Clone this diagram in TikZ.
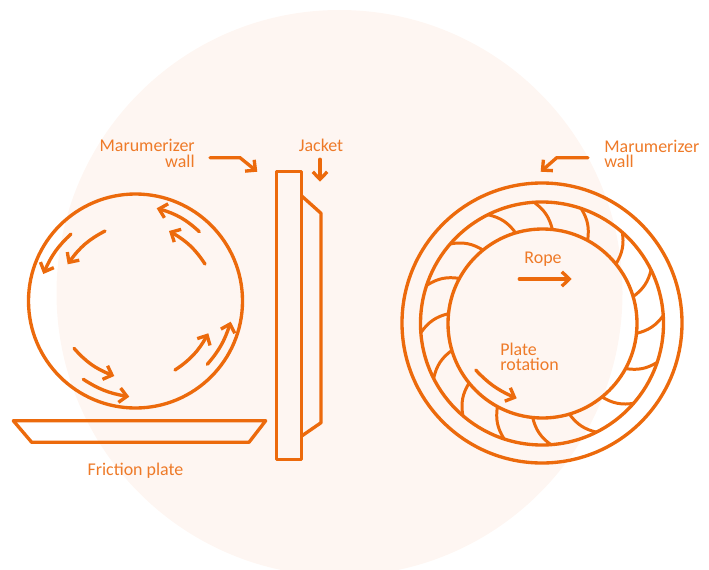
\documentclass[tikz,border=0pt]{standalone}
\usepackage{fontspec}
\setmainfont{Carlito}
\usepackage{xcolor}
\usetikzlibrary{arrows.meta,bending}
\definecolor{wallorange}{HTML}{EC6A0C}
\definecolor{textorange}{HTML}{EE7A28}
\definecolor{paleback}{HTML}{FEF6F2}

\begin{document}
\begin{tikzpicture}[
  x=0.02cm, y=0.02cm,
  font=\fontsize{10.2}{8.9}\selectfont,
  wall/.style={draw=wallorange, line width=1.9pt, line join=round},
  fin/.style={wall, line width=1.7pt},
  ar/.style={-{Straight Barb[length=1.5mm,width=2.9mm,flex=0]}, draw=wallorange, line width=1.9pt, line cap=round},
  lab/.style={text=textorange, inner sep=0pt}
]
  \useasboundingbox (0,0) rectangle (709,569);
  \fill[paleback] (339.5,276) circle[radius=283];

  % rolling load beside the friction plate
  \draw[wall] (135.5,268) circle[radius=107];
  \draw[wall] (13.3,148.3) -- (265.7,148.3) -- (249,126.7) -- (31.7,126.7) -- cycle;
  \draw[wall] (276.7,397.3) rectangle (301.7,109.7);
  \draw[wall] (301.7,373) -- (321,355.7) -- (321,146.3) -- (301.7,133);

  \draw[ar] (199.3,337.3) to[bend right=14] (156.7,360.7);
  \draw[ar] (205,305) to[bend right=14] (169,338);
  \draw[ar] (105,338) to[bend right=14] (67.7,304.7);
  \draw[ar] (71,335) to[bend right=12] (43.3,295);
  \draw[ar] (74,220.7) to[bend right=14] (114.3,193);
  \draw[ar] (83.3,189.7) to[bend right=12] (129.3,172.3);
  \draw[ar] (175,199) to[bend right=14] (208.3,235.7);
  \draw[ar] (207.3,204.7) to[bend right=12] (230.7,247.3);

  % ring with its fins
  \draw[wall] (542,246) circle[radius=140];
  \draw[wall] (542,245.5) circle[radius=121.5];
  \draw[wall] (542.5,245.5) circle[radius=94.5];
  \foreach \a in {84,61.5,39,16.5,-6,-28.5,-51,-73.5,-96,-118.5,-141,-163.5,174,151.5,129,106.5}
    \draw[fin, shift={(542.5,245.5)}] (\a:94.5) to[bend right=20] ({\a+10}:121.5);

  \draw[ar] (519.3,290) -- (571.7,290);
  \draw[ar] (475.7,199) to[bend right=12] (516.7,170.7);

  % pointers
  \draw[ar] (210,411.3) -- (240,411.3) -- (257.3,397.3);
  \draw[ar] (588,411.3) -- (556.7,411.3) -- (540.7,397.3);
  \draw[ar] (320,409.7) -- (320,387.3);

  \node[lab, align=right, anchor=east] (wallleft) at (195,415.5) {Marumerizer\\wall};
  \node[lab] (jacket) at (321,424) {Jacket};
  \node[lab] (friction) at (135.5,98.5) {Friction plate};
  \node[lab, align=left, anchor=west] (wallright) at (604,415) {Marumerizer\\wall};
  \node[lab] (rope) at (543,309.5) {Rope};
  \node[lab, align=left, anchor=west] (plate) at (500,212) {Plate\\rotation};
\end{tikzpicture}
\end{document}
